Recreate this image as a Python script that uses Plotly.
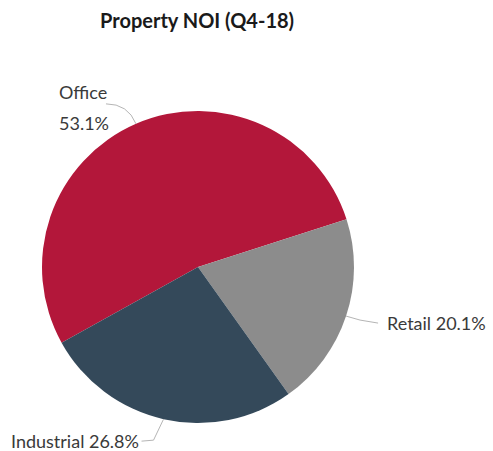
import math
import plotly.graph_objects as go

# Property NOI mix, Q4-18
categories = ["Office", "Retail", "Industrial"]
shares = [53.1, 20.1, 26.8]
colors = ["#B3173A", "#8C8C8C", "#34495A"]
title_text = "Property NOI (Q4-18)"

W, H = 493, 451
CX, CY, R = 198, 267, 156          # pie centre / radius in pixels
ROTATION = 241                     # degrees clockwise from 12 o'clock

def px_to_paper(x, y):
    return x / W, 1 - y / H

fig = go.Figure(go.Pie(
    labels=categories,
    values=shares,
    sort=False,
    direction="clockwise",
    rotation=ROTATION,
    marker=dict(colors=colors, line=dict(width=0)),
    textinfo="none",
    hoverinfo="label+percent",
    showlegend=False,
    domain=dict(x=[(CX - R) / W, (CX + R) / W],
                y=[(H - CY - R) / H, (H - CY + R) / H]),
))

# Mid-angle of every slice -> point on the rim where its leader line starts
total = sum(shares)
cum = 0.0
rim = {}
for name, v in zip(categories, shares):
    mid = ROTATION + 360 * (cum + v / 2) / total
    a = math.radians(mid)
    rim[name] = (CX + R * math.sin(a), CY - R * math.cos(a))
    cum += v

FONT = "Lato, Open Sans, sans-serif"
label_style = dict(size=18, color="#3a3a3a", family=FONT)
line_style = dict(color="#b5b5b5", width=1)

# Leader-line routing (pixel offsets from the rim point)
routes = {
    "Office": dict(elbow=(-8, -20), end=(-30, -20)),
    "Retail": dict(elbow=(14, 4), end=(32, 7)),
    "Industrial": dict(elbow=(-10, 21), end=(-22, 22)),
}

annotations = []
shapes = []
for name, v in zip(categories, shares):
    x0, y0 = rim[name]
    ex, ey = x0 + routes[name]["elbow"][0], y0 + routes[name]["elbow"][1]
    tx, ty = x0 + routes[name]["end"][0], y0 + routes[name]["end"][1]
    p0, p1, p2 = px_to_paper(x0, y0), px_to_paper(ex, ey), px_to_paper(tx, ty)
    if name == "Office":
        path = f"M {p0[0]},{p0[1]} Q {p1[0]},{p1[1]} {p2[0]},{p2[1]}"
    else:
        path = f"M {p0[0]},{p0[1]} L {p1[0]},{p1[1]} L {p2[0]},{p2[1]}"
    shapes.append(dict(type="path", xref="paper", yref="paper",
                       path=path, line=line_style))

    if name == "Office":
        for txt, dy in ((name, -12), (f"{v}%", 19)):
            ax, ay = px_to_paper(tx - 49, ty + dy)
            annotations.append(dict(x=ax, y=ay, xref="paper", yref="paper",
                                    text=txt, showarrow=False,
                                    xanchor="left", yanchor="middle", font=label_style))
    elif name == "Retail":
        ax, ay = px_to_paper(tx + 7, ty)
        annotations.append(dict(x=ax, y=ay, xref="paper", yref="paper",
                                text=f"{name} {v}%", showarrow=False,
                                xanchor="left", yanchor="middle", font=label_style))
    else:
        ax, ay = px_to_paper(tx - 1, ty)
        annotations.append(dict(x=ax, y=ay, xref="paper", yref="paper",
                                text=f"{name} {v}%", showarrow=False,
                                xanchor="right", yanchor="middle", font=label_style))

annotations.append(dict(
    x=197 / W, y=1 - 20 / H, xref="paper", yref="paper",
    text=f"<b>{title_text}</b>", showarrow=False,
    xanchor="center", yanchor="middle",
    font=dict(size=20, color="#1a1a1a", family=FONT),
))

fig.update_layout(
    width=W, height=H,
    margin=dict(l=0, r=0, t=0, b=0),
    paper_bgcolor="white",
    plot_bgcolor="white",
    annotations=annotations,
    shapes=shapes,
)

fig.write_html("out.html")
